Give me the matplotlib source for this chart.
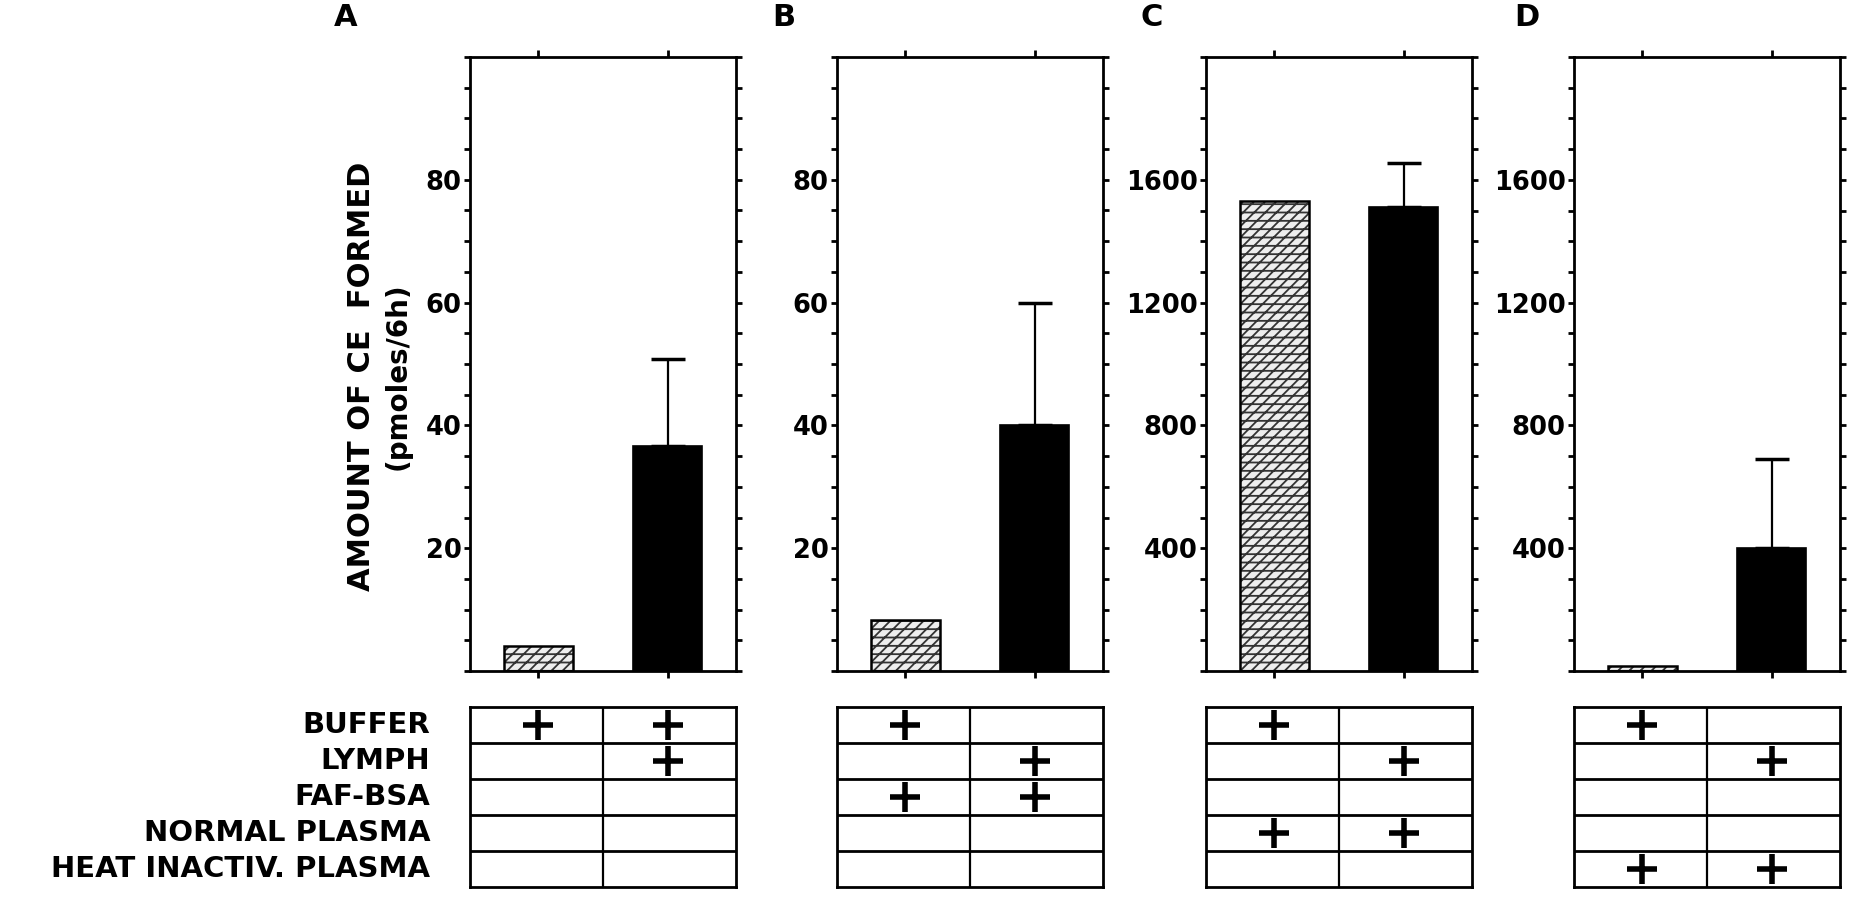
import numpy as np
import matplotlib
matplotlib.use('Agg')
import matplotlib.pyplot as plt
from matplotlib.ticker import MultipleLocator

plt.rcParams['font.family'] = ['DejaVu Sans']
plt.rcParams['hatch.linewidth'] = 1.3

# data
panels = ['A', 'B', 'C', 'D']
means = [[4, 36.6], [8.3, 40], [1530, 1512], [15, 400]]
errors = [[0, 14.2], [0, 20], [0, 142], [0, 290]]
ymax = [100, 100, 2000, 2000]
major = [20, 20, 400, 400]
minor = [5, 5, 100, 100]

conditions = ['BUFFER', 'LYMPH', 'FAF-BSA', 'NORMAL PLASMA', 'HEAT INACTIV. PLASMA']
# which condition is present in column 1 / column 2 of each panel
present = {
    'A': [['BUFFER'], ['BUFFER', 'LYMPH']],
    'B': [['BUFFER', 'FAF-BSA'], ['LYMPH', 'FAF-BSA']],
    'C': [['BUFFER', 'NORMAL PLASMA'], ['LYMPH', 'NORMAL PLASMA']],
    'D': [['BUFFER', 'HEAT INACTIV. PLASMA'], ['LYMPH', 'HEAT INACTIV. PLASMA']],
}

W, H = 1850, 899
fig = plt.figure(figsize=(W / 100, H / 100), dpi=100)

lefts = [470, 837, 1206, 1574]
letter_x = [346, 784, 1152, 1527]
aw = 266
top, bot = 57, 671
ttop, tbot = 707, 887
xs = np.array([0, 1])
xlim = (-0.53, 1.53)
bw = 0.53

for i, p in enumerate(panels):
    ax = fig.add_axes([lefts[i] / W, 1 - bot / H, aw / W, (bot - top) / H])
    # hatched control bar
    ax.bar(xs[0], means[i][0], width=bw, color='#eeeeee', edgecolor='#333333',
           hatch='///--', linewidth=0, zorder=2)
    ax.bar(xs[0], means[i][0], width=bw, color='none', edgecolor='black',
           linewidth=1.8, zorder=3)
    ax.bar(xs[1], means[i][1], width=bw, color='black', edgecolor='black',
           linewidth=1.2, zorder=2)
    ax.errorbar(xs[1], means[i][1], yerr=[[0], [errors[i][1]]], fmt='none',
                ecolor='black', elinewidth=1.6, capsize=12, capthick=2.5, zorder=1)
    ax.set_xlim(*xlim)
    ax.set_ylim(0, ymax[i])
    ax.set_xticks(xs)
    ax.set_xticklabels([])
    ax.yaxis.set_minor_locator(MultipleLocator(minor[i]))
    ticks = [t for t in np.arange(major[i], ymax[i], major[i])]
    ax.set_yticks(ticks)
    ax.set_yticklabels([str(int(t)) for t in ticks], fontsize=18.5, fontweight='bold')
    ax.tick_params(axis='y', which='both', direction='out', length=4, width=2,
                   left=True, right=True, pad=2)
    ax.tick_params(axis='x', which='both', direction='out', length=5, width=2,
                   top=True, bottom=True)
    for s in ax.spines.values():
        s.set_linewidth(2)
    fig.text(letter_x[i] / W, 1 - 17 / H, p, fontsize=22, fontweight='bold',
             ha='center', va='center')

    # condition table underneath
    tx = fig.add_axes([lefts[i] / W, 1 - tbot / H, aw / W, (tbot - ttop) / H])
    tx.set_xlim(*xlim)
    tx.set_ylim(len(conditions), 0)
    for r in range(1, len(conditions)):
        tx.axhline(r, color='black', lw=2)
    tx.axvline(0.5, color='black', lw=1.6)
    for c in range(2):
        for r, cond in enumerate(conditions):
            if cond in present[p][c]:
                tx.plot(xs[c], r + 0.5, marker='+', ms=21, mew=4, color='black')
    tx.set_xticks([])
    tx.set_yticks([])
    for s in tx.spines.values():
        s.set_linewidth(2)

for r, cond in enumerate(conditions):
    yc = ttop + (tbot - ttop) * (r + 0.5) / len(conditions)
    fig.text(430 / W, 1 - yc / H, cond, fontsize=21, fontweight='bold',
             ha='right', va='center')

fig.text(361 / W, 1 - 376 / H, 'AMOUNT OF CE  FORMED', rotation=90, fontsize=22,
         fontweight='bold', ha='center', va='center')
fig.text(398 / W, 1 - 376 / H, '(pmoles/6h)', rotation=90, fontsize=20,
         fontweight='bold', ha='center', va='center')

fig.savefig('out.png', dpi=100)
